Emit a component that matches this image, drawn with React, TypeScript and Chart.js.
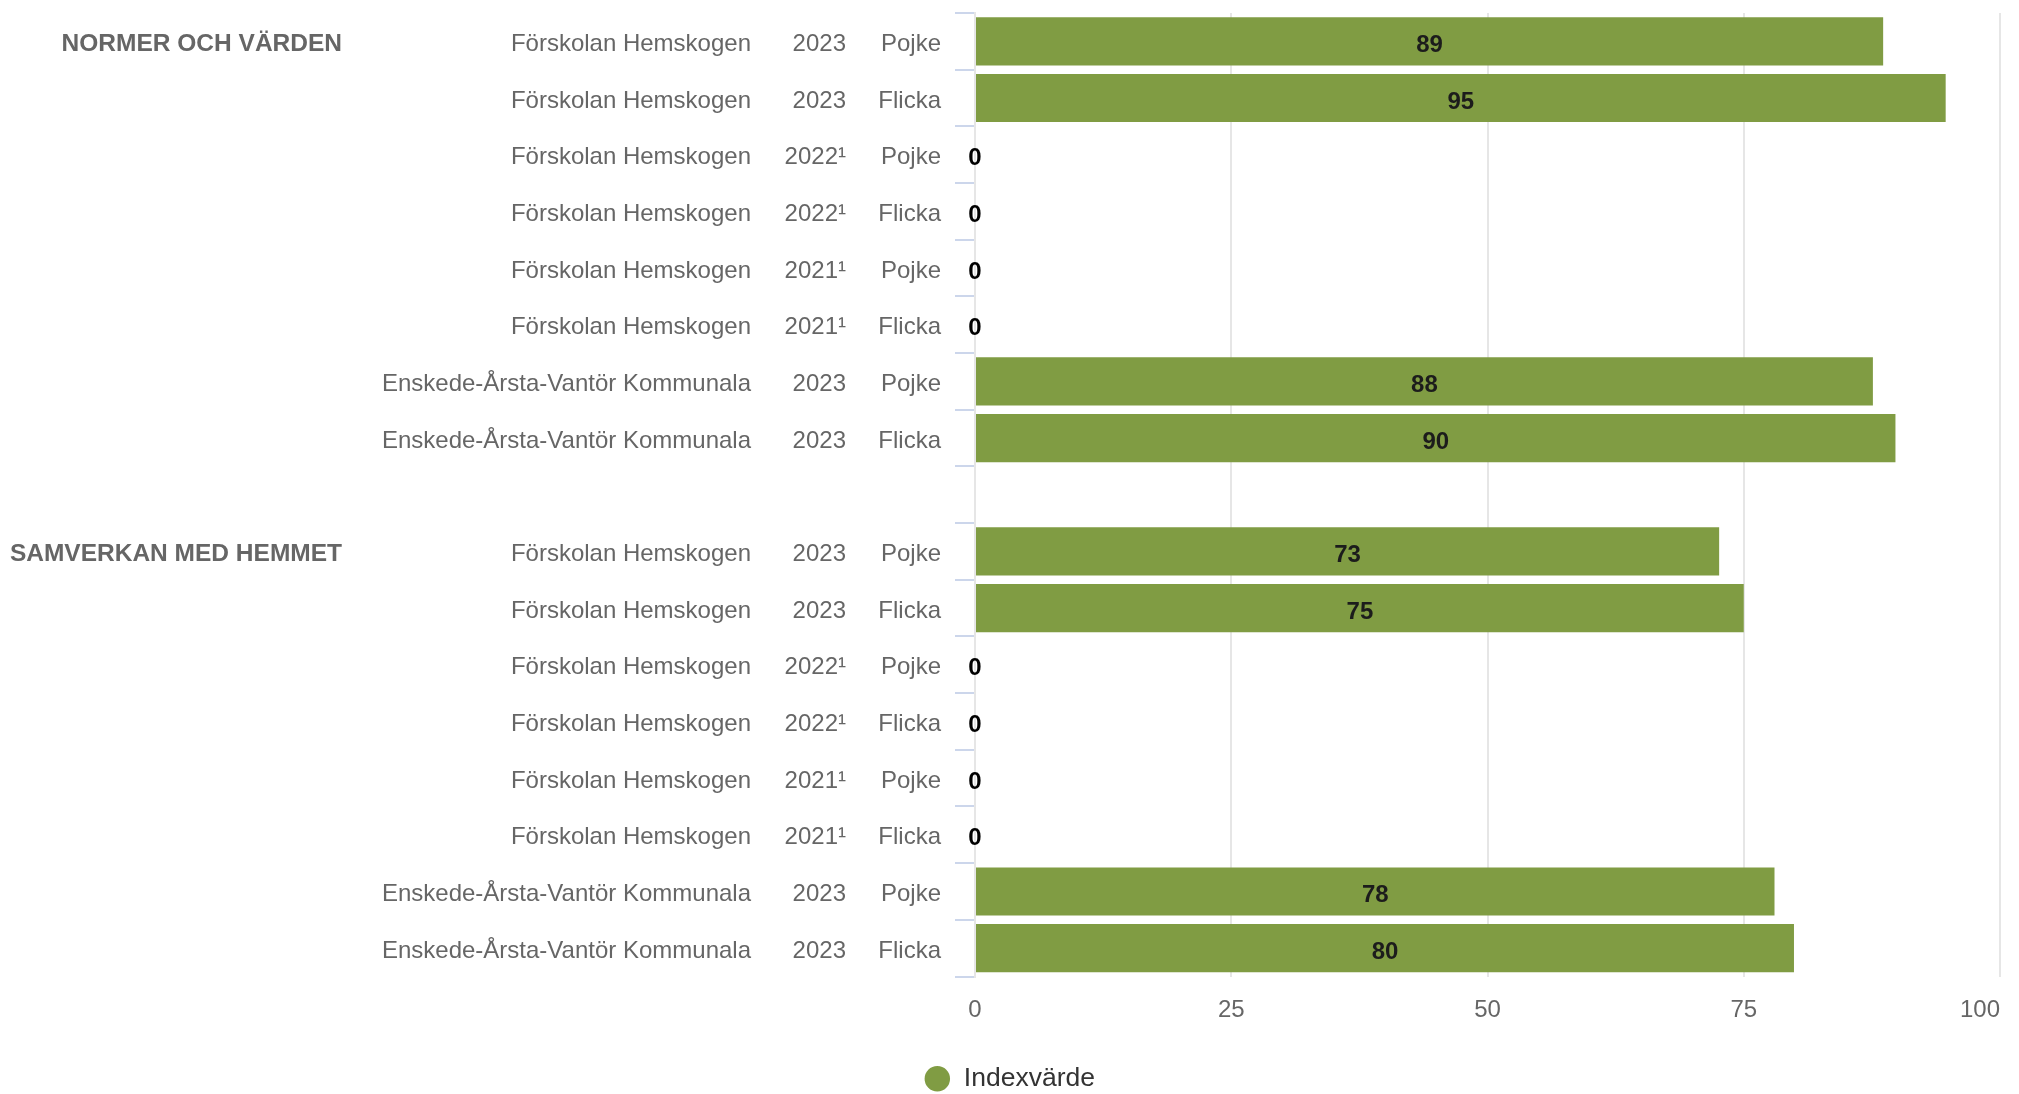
import React, { useEffect, useRef } from "react";
import { Chart, registerables } from "chart.js";

Chart.register(...registerables);

// ---- Data ----
const groups = [
  "NORMER OCH VÄRDEN", "", "", "", "", "", "", "", "",
  "SAMVERKAN MED HEMMET", "", "", "", "", "", "", "",
];
const schools = [
  "Förskolan Hemskogen", "Förskolan Hemskogen", "Förskolan Hemskogen", "Förskolan Hemskogen",
  "Förskolan Hemskogen", "Förskolan Hemskogen", "Enskede-Årsta-Vantör Kommunala", "Enskede-Årsta-Vantör Kommunala",
  "",
  "Förskolan Hemskogen", "Förskolan Hemskogen", "Förskolan Hemskogen", "Förskolan Hemskogen",
  "Förskolan Hemskogen", "Förskolan Hemskogen", "Enskede-Årsta-Vantör Kommunala", "Enskede-Årsta-Vantör Kommunala",
];
const years = [
  "2023", "2023", "2022¹", "2022¹", "2021¹", "2021¹", "2023", "2023",
  "",
  "2023", "2023", "2022¹", "2022¹", "2021¹", "2021¹", "2023", "2023",
];
const genders = [
  "Pojke", "Flicka", "Pojke", "Flicka", "Pojke", "Flicka", "Pojke", "Flicka",
  "",
  "Pojke", "Flicka", "Pojke", "Flicka", "Pojke", "Flicka", "Pojke", "Flicka",
];
const indexValues: (number | null)[] = [
  88.6, 94.7, 0, 0, 0, 0, 87.6, 89.8,
  null,
  72.6, 75.0, 0, 0, 0, 0, 78.0, 79.9,
];
const xTickValues = [0, 25, 50, 75, 100];
const seriesName = "Indexvärde";

const FONT = "'Liberation Sans', Arial, Helvetica, sans-serif";

const categories = schools.map((s, i) => `${groups[i]}|${s}|${years[i]}|${genders[i]}|${i}`);

const labelPlugin = {
  id: "customLabels",
  afterDraw(chart: any) {
    const ctx = chart.ctx as CanvasRenderingContext2D;
    const y = chart.scales.y;
    const x = chart.scales.x;
    ctx.save();
    ctx.textBaseline = "middle";

    // category labels (multi-column)
    for (let i = 0; i < categories.length; i++) {
      const py = y.getPixelForValue(i) + 3;
      ctx.fillStyle = "#666666";
      ctx.textAlign = "right";
      if (groups[i]) {
        ctx.font = `bold 24.5px ${FONT}`;
        ctx.fillText(groups[i], 342, py);
      }
      ctx.font = `24px ${FONT}`;
      if (schools[i]) ctx.fillText(schools[i], 751, py);
      if (years[i]) ctx.fillText(years[i], 846, py);
      if (genders[i]) ctx.fillText(genders[i], 941, py);
    }

    // x tick labels
    ctx.font = `24px ${FONT}`;
    ctx.fillStyle = "#666666";
    const n = xTickValues.length;
    xTickValues.forEach((v, idx) => {
      const px = x.getPixelForValue(v);
      ctx.textAlign = idx === n - 1 ? "right" : "center";
      ctx.fillText(String(v), px, chart.chartArea.bottom + 34);
    });

    // data labels
    const meta = chart.getDatasetMeta(0);
    ctx.font = `bold 24px ${FONT}`;
    ctx.textAlign = "center";
    meta.data.forEach((bar: any, i: number) => {
      const v = indexValues[i];
      if (v === null || v === undefined) return;
      const props = bar.getProps(["x", "y", "base"], true);
      ctx.fillStyle = v === 0 ? "#000000" : "#1c1c1c";
      ctx.fillText(String(Math.round(v)), (props.x + props.base) / 2, props.y + 4);
    });
    ctx.restore();
  },
};

export default function App() {
  const canvasRef = useRef<HTMLCanvasElement | null>(null);

  useEffect(() => {
    document.body.style.margin = "0";
    const canvas = canvasRef.current;
    if (!canvas) return;
    const chart = new Chart(canvas, {
      type: "bar",
      data: {
        labels: categories,
        datasets: [
          {
            label: seriesName,
            data: indexValues as any,
            backgroundColor: "#809c43",
            borderWidth: 0,
            categoryPercentage: 1,
            barPercentage: 0.85,
          },
        ],
      },
      options: {
        indexAxis: "y",
        responsive: false,
        animation: false,
        devicePixelRatio: 1,
        layout: { padding: { top: 13, right: 19, bottom: -8, left: 19 } },
        scales: {
          x: {
            type: "linear",
            min: 0,
            max: 100,
            afterBuildTicks: (scale: any) => {
              scale.ticks = xTickValues.map((v) => ({ value: v }));
            },
            afterFit: (scale: any) => {
              scale.height = 79;
              scale.paddingLeft = 0;
              scale.paddingRight = 0;
            },
            ticks: { display: false },
            grid: { color: "#e6e6e6", lineWidth: 2, drawTicks: false },
            border: { display: false },
          },
          y: {
            type: "category",
            afterFit: (scale: any) => {
              scale.width = 956;
              scale.paddingTop = 0;
              scale.paddingBottom = 0;
            },
            ticks: { display: false },
            grid: {
              offset: true,
              drawOnChartArea: false,
              drawTicks: true,
              tickLength: 20,
              color: "#ccd6eb",
              lineWidth: 2,
            },
            border: { display: true, color: "#e6e6e6", width: 2 },
          },
        },
        plugins: {
          tooltip: { enabled: false },
          legend: {
            display: true,
            position: "bottom",
            labels: {
              usePointStyle: true,
              pointStyle: "circle",
              boxHeight: 18,
              boxWidth: 30,
              padding: 10,
              color: "#333333",
              font: { family: FONT, size: 26.5 },
            },
          },
        },
      },
      plugins: [labelPlugin],
    });
    return () => chart.destroy();
  }, []);

  return (
    <div style={{ width: 2019, height: 1094, background: "#ffffff" }}>
      <canvas ref={canvasRef} width={2019} height={1094} style={{ display: "block", width: 2019, height: 1094 }} />
    </div>
  );
}
